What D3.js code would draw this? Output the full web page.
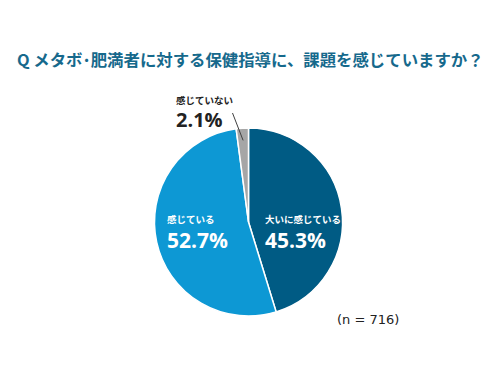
<!DOCTYPE html>
<html>
<head>
<meta charset="utf-8">
<script src="https://cdn.jsdelivr.net/npm/d3@7"></script>
<style>
body { margin: 0; background: #fff; }
</style>
</head>
<body>
<div id="chart"></div>
<script>
var categories = ["大いに感じている", "感じている", "感じていない"];
var values = [45.3, 52.7, 2.1];
var colors = ["#005b84", "#0d98d4", "#a6a6a6"];
var title = "Q メタボ･肥満者に対する保健指導に、課題を感じていますか？";
var note = "(n = 716)";

var width = 500, height = 375;
var cx = 248.5, cy = 222, radius = 94;
var jpFont = "'Noto Sans CJK JP', 'Noto Sans', sans-serif";

var svg = d3.select("#chart")
	.append("svg")
	.attr("width", width)
	.attr("height", height);

svg.append("text")
	.attr("x", 17)
	.attr("y", 66)
	.attr("fill", "#16698c")
	.style("font-family", jpFont)
	.style("font-size", "16.4px")
	.style("font-weight", "bold")
	.text(title);

var pie = d3.pie().sort(null).value(function(d) { return d; });
var arc = d3.arc().innerRadius(0).outerRadius(radius);
var arcs = pie(values);

var g = svg.append("g")
	.attr("transform", "translate(" + cx + "," + cy + ")");

g.selectAll("path")
	.data(arcs)
	.enter().append("path")
	.attr("d", arc)
	.attr("fill", function(d, i) { return colors[i]; })
	.attr("stroke", "#fff")
	.attr("stroke-width", 1.5);

// leader line for the small slice
var small = arcs[2];
var inner = d3.arc().innerRadius(radius * 0.87).outerRadius(radius * 0.87).centroid(small);
g.append("line")
	.attr("x1", inner[0])
	.attr("y1", inner[1])
	.attr("x2", -16)
	.attr("y2", -109)
	.attr("stroke", "#404040")
	.attr("stroke-width", 1);

// labels
var labels = [
	{ i: 0, x: 265, y1: 223, y2: 248, size: 21, color: "#fff" },
	{ i: 1, x: 167, y1: 223, y2: 248, size: 21, color: "#fff" },
	{ i: 2, x: 176, y1: 104, y2: 127, size: 20, color: "#222" }
];

labels.forEach(function(l) {
	svg.append("text")
		.attr("x", l.x)
		.attr("y", l.y1)
		.attr("fill", l.color)
		.style("font-family", jpFont)
		.style("font-size", "9.5px")
		.style("font-weight", "bold")
		.text(categories[l.i]);
	svg.append("text")
		.attr("x", l.x)
		.attr("y", l.y2)
		.attr("fill", l.color)
		.style("font-family", "'Open Sans', 'Noto Sans', sans-serif")
		.style("font-size", l.size + "px")
		.style("font-weight", "bold")
		.text(values[l.i].toFixed(1) + "%");
});

svg.append("text")
	.attr("x", 337)
	.attr("y", 324)
	.attr("fill", "#222")
	.style("font-family", "'DejaVu Sans', sans-serif")
	.style("font-size", "13px")
	.text(note);
</script>
</body>
</html>
